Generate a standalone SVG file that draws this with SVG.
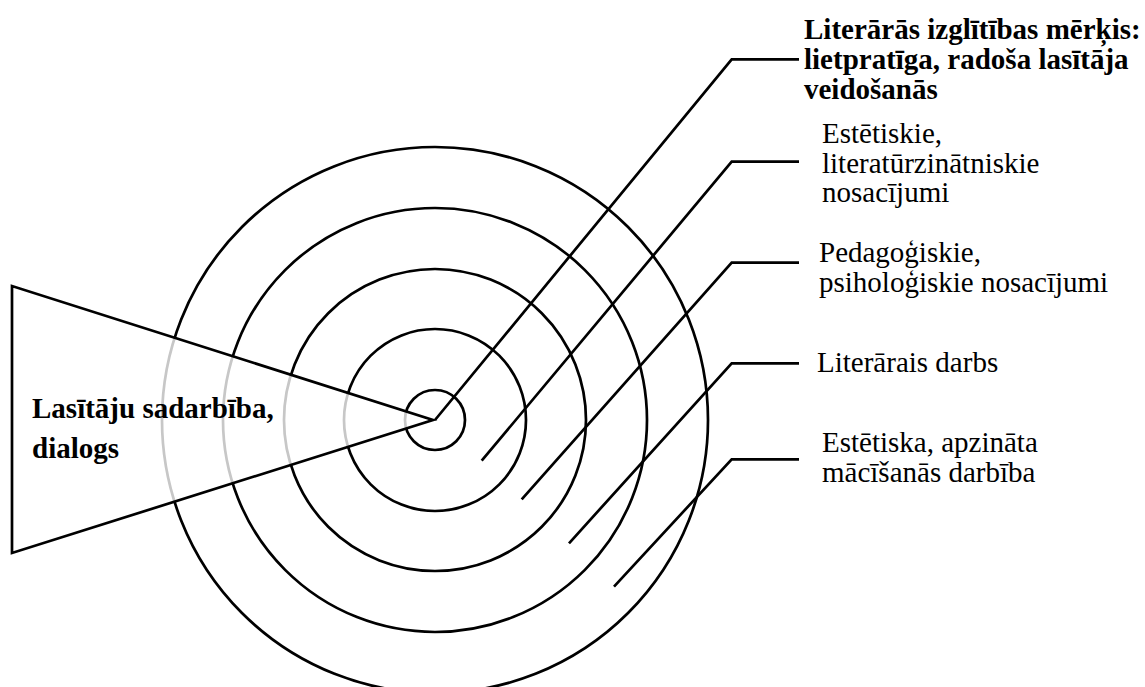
<svg xmlns="http://www.w3.org/2000/svg" width="1145" height="687" viewBox="0 0 1145 687">
<style>
.ring{fill:none;stroke:#000;stroke-width:2.7}
.ln{fill:none;stroke:#000;stroke-width:2.7;stroke-linecap:butt;stroke-linejoin:miter}
.t{font-family:"Liberation Serif","Times New Roman",serif;font-size:29px;fill:#000}
.b{font-weight:bold}
</style>
<rect width="1145" height="687" fill="#fff"/>
<g id="target">
<circle class="ring" cx="435" cy="420" r="30"/>
<circle class="ring" cx="435" cy="420" r="91"/>
<circle class="ring" cx="435" cy="420" r="151"/>
<circle class="ring" cx="435" cy="420" r="212"/>
<circle class="ring" cx="435" cy="420" r="273"/>
</g>
<g id="dialog">
<polygon points="12,286 12,553 433,420" fill="#fff" fill-opacity="0.78" stroke="#000" stroke-width="2.7" stroke-linejoin="miter"/>
<text class="t b" x="32" y="418">Lasītāju sadarbība,</text>
<text class="t b" x="32" y="458">dialogs</text>
</g>
<g id="connectors">
<polyline class="ln" points="435,420 731.7,59.3 799,59.3"/>
<polyline class="ln" points="481.7,460.7 731.7,161.7 799,161.7"/>
<polyline class="ln" points="521.7,499.3 731.7,262.7 799,262.7"/>
<polyline class="ln" points="569,543.3 731.7,363.3 799,363.3"/>
<polyline class="ln" points="614,586.7 731.7,459.3 799,459.3"/>
</g>
<g id="goal">
<text class="t b" x="804" y="39">Literārās izglītības mērķis:</text>
<text class="t b" x="804" y="69">lietpratīga, radoša lasītāja</text>
<text class="t b" x="804" y="99">veidošanās</text>
</g>
<g id="aesthetic-conditions">
<text class="t" x="822" y="143">Estētiskie,</text>
<text class="t" x="822" y="173">literatūrzinātniskie</text>
<text class="t" x="822" y="202">nosacījumi</text>
</g>
<g id="pedagogical-conditions">
<text class="t" x="819" y="262">Pedagoģiskie,</text>
<text class="t" x="819" y="292">psiholoģiskie nosacījumi</text>
</g>
<g id="literary-work">
<text class="t" x="817" y="372">Literārais darbs</text>
</g>
<g id="learning-activity">
<text class="t" x="822" y="452">Estētiska, apzināta</text>
<text class="t" x="822" y="482">mācīšanās darbība</text>
</g>
</svg>
